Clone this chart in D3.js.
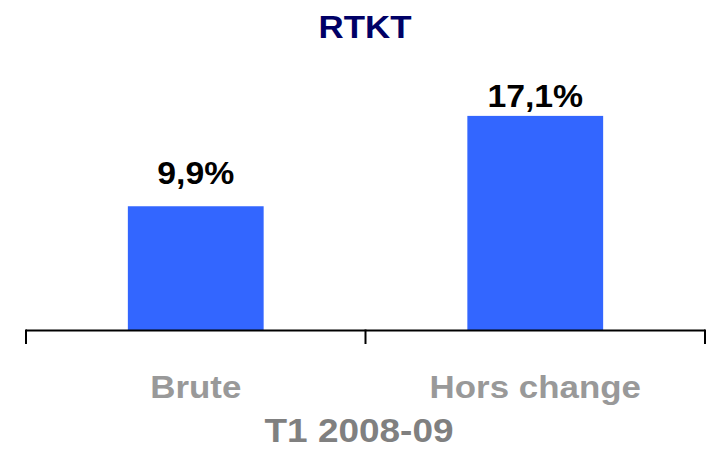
<!DOCTYPE html>
<html><head><meta charset="utf-8">
<script src="https://cdn.jsdelivr.net/npm/d3@7"></script>
<style>body{margin:0;background:#fff}svg{display:block;font-family:"Liberation Sans",Arial,Helvetica,sans-serif}</style>
</head><body><svg id="c" width="709" height="449"></svg>
<script>
const categories = ["Brute", "Hors change"];
const values = [9.9, 17.1];
const valueLabels = ["9,9%", "17,1%"];
const title = "RTKT";
const axisTitle = "T1 2008-09";

const svg = d3.select("#c");
const x = d3.scaleBand().domain(categories).range([26, 705]).padding(0);
const y = d3.scaleLinear().domain([0, 10]).range([330.5, 205]);
const plotTop = 85;
const barW = x.bandwidth() * 0.4;

function label(px, py, txt, size, fill, sx) {
  svg.append("g").attr("transform", `translate(${px},${py}) scale(${sx || 1.09},1)`)
    .append("text").attr("text-anchor", "middle").attr("font-size", size)
    .attr("font-weight", "bold").attr("fill", fill).text(txt);
}

label(365, 38, title, 32, "#000066");

svg.selectAll("rect.bar").data(values).enter().append("rect")
  .attr("x", (d, i) => x(categories[i]) + x.bandwidth() / 2 - barW / 2)
  .attr("width", barW)
  .attr("y", d => y(d))
  .attr("height", d => y(0) - y(d))
  .attr("fill", "#3366FF");

values.forEach((d, i) => label(x(categories[i]) + x.bandwidth() / 2,
  Math.max(y(d) - 22, plotTop + 22), valueLabels[i], 31, "#000"));

// axis
const ax = svg.append("g").attr("stroke", "#000").attr("stroke-width", 2).attr("fill", "none");
ax.append("line").attr("x1", 26).attr("x2", 705).attr("y1", 330.5).attr("y2", 330.5);
const edges = [x.range()[0], ...categories.map(c => x(c) + x.bandwidth())];
edges.forEach(e => ax.append("line").attr("x1", e).attr("x2", e).attr("y1", 329.5).attr("y2", 344));

categories.forEach(c => label(x(c) + x.bandwidth() / 2, 398, c, 32, "#999999"));

label(359, 441.5, axisTitle, 33, "#808080", 1.12);
</script></body></html>
